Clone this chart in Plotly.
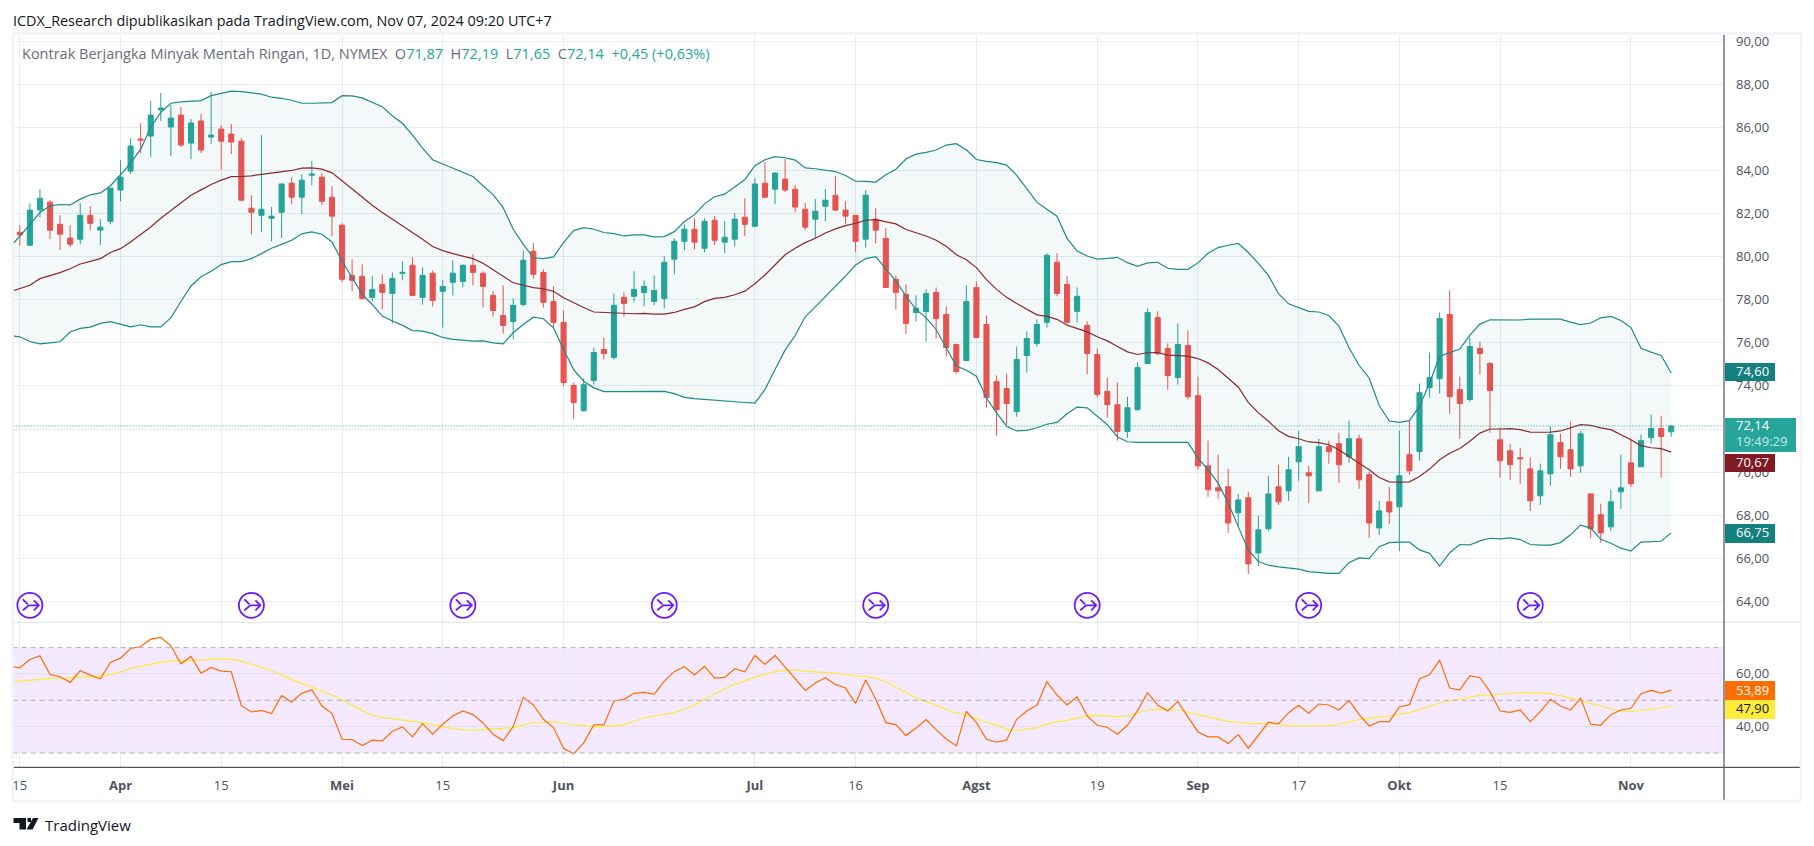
import pandas as pd
import plotly.graph_objects as go

W, H = 1814, 846
HOLIDAYS = ["2024-03-29", "2024-05-27", "2024-06-19", "2024-07-04", "2024-09-02"]
dates = [d.strftime("%Y-%m-%d") for d in pd.bdate_range("2024-03-14", "2024-11-07") if d.strftime("%Y-%m-%d") not in HOLIDAYS]

open_ = [81.13,80.53,82.17,82.53,81.50,80.86,80.81,81.92,81.23,81.64,
83.09,83.97,85.46,85.60,86.81,86.02,86.57,85.27,86.30,85.55,
85.92,85.69,85.36,82.25,81.92,81.78,82.06,83.41,82.76,83.78,
83.69,82.76,81.46,79.13,79.09,78.11,78.71,78.29,79.23,79.60,
78.11,79.23,78.39,78.81,78.85,79.60,79.23,78.20,77.27,76.99,
77.78,80.25,79.27,77.92,76.95,74.02,72.85,74.25,75.69,75.32,
78.11,78.16,78.34,77.92,78.06,79.88,80.71,81.27,80.39,81.69,
80.67,80.81,81.83,81.41,83.41,83.13,83.60,83.13,82.20,81.74,
82.34,82.85,82.16,81.92,80.81,81.74,80.85,78.95,78.25,77.41,
77.46,78.34,77.32,75.92,75.18,78.57,76.85,74.20,73.88,72.81,
75.41,75.97,76.95,79.74,78.71,77.46,76.81,75.46,73.74,73.13,
71.88,72.90,75.04,77.18,75.74,74.39,75.88,73.55,70.29,69.27,
69.32,68.11,68.81,66.25,67.37,69.32,69.13,70.48,69.97,69.13,
71.18,71.32,70.71,71.55,69.88,67.41,68.62,68.39,70.81,70.95,
73.92,74.34,77.32,73.83,73.37,75.74,75.04,71.50,70.99,70.67,
70.15,68.90,69.92,71.37,71.04,70.29,68.99,68.02,67.46,69.09,
70.43,70.25,71.60,72.02,71.87]
high = [81.46,82.48,83.13,82.62,81.92,81.46,82.48,82.34,81.74,83.18,
84.48,85.50,86.20,87.23,87.60,87.04,86.95,86.39,86.62,87.64,
86.11,86.16,85.50,82.85,85.64,82.30,83.41,83.69,83.83,84.43,
83.88,83.27,81.55,79.88,79.64,79.09,79.18,79.27,79.78,79.97,
79.50,79.36,78.90,79.83,79.64,80.11,79.32,78.39,78.67,78.06,
80.29,80.62,79.41,78.62,77.50,74.16,74.34,75.78,76.25,78.29,
78.34,79.32,78.90,79.13,80.02,80.85,81.50,81.78,81.78,81.88,
81.64,82.02,82.71,83.64,84.39,83.92,84.53,83.32,82.48,82.67,
83.13,83.74,82.57,81.92,83.09,82.25,81.32,79.13,78.71,78.20,
78.48,78.57,77.69,75.97,78.67,78.85,77.27,74.48,74.57,75.83,
76.53,77.09,80.16,80.16,79.09,78.57,76.99,75.74,74.39,74.16,
73.50,75.09,77.60,77.46,75.97,76.90,76.57,74.43,71.46,70.81,
70.15,68.99,69.09,67.97,69.83,70.34,70.71,71.92,70.29,71.55,
71.46,71.83,72.39,71.74,70.02,68.67,69.32,71.92,72.43,74.11,
75.55,77.41,78.43,74.43,76.25,76.06,75.09,72.06,71.32,71.13,
70.67,70.39,72.11,71.78,72.34,71.92,68.99,68.53,69.18,70.81,
71.50,71.74,72.67,72.62,72.19]
low = [80.50,80.53,81.81,80.81,80.31,80.45,80.58,81.23,80.53,81.50,
82.57,83.83,84.79,84.64,86.30,84.68,85.09,84.53,84.81,85.23,
84.02,84.76,82.57,81.04,81.13,80.71,80.86,82.44,81.97,83.32,
82.39,80.95,78.81,78.39,78.02,77.92,77.55,76.90,78.90,78.16,
77.78,77.69,76.71,78.20,78.57,78.67,77.64,77.22,76.43,76.16,
77.69,78.99,77.64,76.67,73.99,72.48,72.81,74.06,75.23,75.23,
77.22,77.88,77.69,77.74,77.60,79.18,80.30,80.34,80.20,80.53,
80.16,80.48,80.95,81.37,82.71,82.44,83.00,82.06,81.23,80.85,
81.64,82.11,81.50,80.20,80.43,80.62,78.57,77.55,76.39,76.99,
76.06,76.20,75.37,74.57,75.18,76.25,72.99,71.69,72.20,72.57,
74.62,75.83,76.71,78.16,76.90,76.95,74.53,73.46,72.53,71.46,
71.60,72.85,75.04,75.41,73.83,74.06,73.37,70.11,68.85,68.76,
67.18,67.47,65.27,65.64,67.27,68.48,68.67,69.60,68.57,69.13,
70.39,69.50,70.43,69.23,66.95,67.09,67.60,66.34,69.88,70.53,
73.46,73.65,72.71,71.55,73.27,74.53,71.83,69.74,69.64,69.46,
68.20,68.48,69.36,70.15,69.78,69.97,66.95,66.71,67.27,68.30,
69.32,70.25,71.32,69.74,71.65]
close = [81.01,82.16,82.71,81.23,81.04,80.58,81.92,81.55,81.37,83.18,
83.69,85.13,85.41,86.57,86.90,86.43,85.18,86.20,84.95,85.64,
85.36,85.32,82.62,82.06,82.20,81.88,83.37,82.76,83.55,83.83,
82.57,81.88,78.95,78.90,78.06,78.48,78.34,78.99,79.27,78.20,
79.13,77.97,78.62,79.23,79.60,79.27,78.62,77.50,76.81,77.74,
79.83,79.18,77.88,76.95,74.16,73.23,74.06,75.55,75.50,77.74,
77.83,78.48,78.62,78.43,79.74,80.71,81.27,80.67,81.64,80.76,
80.90,81.74,81.50,83.37,82.76,83.88,83.09,82.30,81.37,82.11,
82.62,82.16,81.88,80.71,82.85,81.23,78.57,78.34,76.90,77.60,
78.29,77.13,75.78,74.67,77.92,76.25,73.46,72.90,73.18,75.23,
76.20,76.85,80.06,78.29,76.95,78.16,75.50,73.60,73.13,71.88,
72.99,74.85,77.41,75.50,74.48,75.92,73.50,70.29,69.18,69.13,
67.64,68.71,65.74,67.32,68.99,68.62,70.11,71.18,69.83,71.18,
70.95,70.34,71.55,69.64,67.64,68.20,68.15,69.83,70.06,73.69,
74.39,77.13,73.50,73.18,75.83,75.50,73.78,70.53,70.34,70.62,
68.67,70.06,71.74,70.71,70.15,71.78,67.37,67.18,68.62,69.27,
69.46,71.46,72.02,71.65,72.14]

bb_upper = [80.42,80.93,81.49,82.05,82.36,82.42,82.40,82.67,82.87,82.96,83.29,
83.80,84.34,84.99,86.00,86.70,87.12,87.18,87.21,87.24,87.47,
87.57,87.68,87.66,87.61,87.54,87.40,87.35,87.26,87.12,87.12,
87.13,87.15,87.47,87.46,87.37,87.15,86.96,86.53,86.19,85.64,
85.04,84.50,84.30,84.09,83.91,83.72,83.29,82.88,82.28,81.27,
80.57,79.95,79.91,79.99,80.65,81.21,81.35,81.27,81.12,81.07,
80.96,81.01,81.01,80.92,80.93,81.16,81.63,81.95,82.45,82.78,
82.90,83.24,83.58,84.22,84.50,84.64,84.59,84.48,84.12,84.08,
84.03,83.95,83.77,83.50,83.49,83.46,83.80,84.06,84.53,84.76,
84.84,84.95,85.18,85.24,84.96,84.51,84.42,84.36,84.25,83.77,
83.16,82.53,82.20,81.88,80.85,80.26,80.03,79.89,79.92,79.97,
79.72,79.55,79.71,79.74,79.46,79.41,79.41,79.71,80.16,80.42,
80.53,80.61,80.19,79.69,79.13,78.28,77.81,77.63,77.46,77.43,
77.27,76.78,75.77,74.96,74.37,73.09,72.37,72.31,72.39,73.06,
74.14,75.38,75.54,75.71,76.36,76.87,77.07,77.06,77.06,77.06,
77.10,77.10,77.10,77.10,76.96,76.85,76.92,77.16,77.23,77.04,
76.71,75.75,75.57,75.41,74.60]
bb_lower = [76.34,76.28,76.06,75.95,76.00,76.05,76.50,76.67,76.73,76.90,76.98,
76.85,76.74,76.84,76.74,76.74,77.16,77.92,78.64,79.07,79.32,
79.63,79.77,79.77,79.91,80.14,80.39,80.57,80.76,81.06,81.15,
81.04,80.68,79.80,79.02,78.25,77.78,77.24,77.01,76.81,76.57,
76.54,76.43,76.25,76.16,76.11,76.08,76.09,76.00,75.95,76.47,
76.85,77.19,77.12,76.70,75.69,74.76,74.22,73.91,73.74,73.74,
73.72,73.74,73.74,73.75,73.75,73.64,73.47,73.41,73.37,73.35,
73.30,73.24,73.23,73.20,73.83,74.76,75.66,76.34,77.21,77.67,
78.14,78.61,79.10,79.61,79.91,80.00,79.41,78.87,78.17,77.55,
77.16,76.62,75.77,74.92,74.73,74.45,73.44,72.75,72.13,71.91,
71.94,72.06,72.22,72.31,72.71,73.02,72.98,72.59,72.20,71.63,
71.41,71.38,71.38,71.41,71.38,71.38,71.38,70.65,70.11,69.49,
68.56,67.47,66.39,65.85,65.68,65.60,65.55,65.50,65.38,65.33,
65.30,65.30,65.80,66.02,65.99,66.54,66.73,66.75,66.75,66.39,
66.23,65.64,66.26,66.64,66.62,66.81,66.93,66.90,66.95,66.87,
66.64,66.61,66.61,66.73,67.09,67.54,67.40,66.88,66.70,66.47,
66.34,66.75,66.78,66.79,67.18]
bb_basis = [78.36,78.51,78.67,78.98,79.12,79.26,79.44,79.66,79.78,79.91,80.19,
80.37,80.68,81.02,81.38,81.78,82.14,82.48,82.85,83.10,83.35,
83.55,83.71,83.72,83.75,83.82,83.88,83.94,84.00,84.11,84.12,
84.06,83.89,83.52,83.13,82.75,82.39,82.05,81.74,81.46,81.12,
80.81,80.47,80.28,80.14,80.02,79.91,79.69,79.41,79.09,78.79,
78.67,78.56,78.51,78.39,78.09,77.85,77.64,77.43,77.41,77.40,
77.35,77.35,77.37,77.33,77.33,77.41,77.55,77.67,77.91,78.06,
78.11,78.23,78.40,78.74,79.15,79.64,80.09,80.39,80.65,80.85,
81.10,81.29,81.44,81.55,81.69,81.72,81.63,81.52,81.26,81.10,
80.96,80.76,80.48,80.09,79.86,79.49,78.93,78.48,78.11,77.83,
77.58,77.30,77.23,77.09,76.82,76.68,76.51,76.28,76.09,75.83,
75.58,75.46,75.54,75.55,75.43,75.41,75.38,75.27,75.07,74.76,
74.37,73.95,73.24,72.75,72.36,71.92,71.66,71.55,71.40,71.37,
71.27,71.04,70.73,70.42,70.11,69.75,69.55,69.54,69.55,69.80,
70.14,70.57,70.88,71.10,71.43,71.81,72.00,72.00,72.02,71.97,
71.86,71.85,71.86,71.91,72.05,72.20,72.17,72.05,71.97,71.74,
71.50,71.23,71.13,71.09,70.93]
rsi = [62.99,62.36,65.51,66.90,59.83,58.95,56.81,61.22,59.58,58.19,64.37,
66.01,69.67,70.43,73.20,73.83,70.68,63.87,66.64,60.34,62.48,
61.10,60.84,47.98,45.58,46.21,44.95,51.76,49.37,52.65,54.03,
47.85,45.08,35.24,35.12,32.85,34.87,34.61,38.27,39.91,36.13,
41.17,37.14,40.92,44.07,45.96,44.58,41.42,37.14,34.74,40.04,
51.13,48.23,42.81,39.66,31.84,29.70,33.86,40.67,40.67,49.75,
50.38,52.65,53.03,52.27,57.31,60.97,62.73,59.58,62.86,58.45,
58.70,61.98,60.84,67.02,63.62,67.02,62.73,58.19,53.78,56.56,
58.57,56.05,54.66,48.86,57.69,50.50,41.55,40.79,36.63,39.53,
42.69,38.90,35.37,32.72,45.84,41.55,35.24,34.11,34.99,42.81,
45.96,48.11,57.06,52.02,48.23,51.39,44.07,40.54,39.78,37.14,
40.54,46.09,52.90,48.23,45.96,49.49,43.82,38.02,36.13,36.13,
33.61,37.01,31.84,36.88,41.68,41.05,45.33,48.11,45.08,48.61,
48.23,46.34,50.00,44.70,40.29,41.93,41.93,47.48,48.36,58.19,
59.71,65.26,54.66,53.91,59.33,58.57,53.28,45.96,45.46,46.34,
41.93,45.71,50.38,47.85,46.34,50.76,40.92,40.54,44.58,46.34,
46.97,52.52,53.78,52.77,53.89]
rsi_ma = [56.93,57.31,57.69,58.19,58.32,58.32,58.57,58.82,58.95,59.20,59.83,
60.72,62.10,62.99,63.74,64.50,64.88,64.88,65.13,65.26,65.63,
65.63,65.63,64.88,63.74,62.61,61.22,59.58,57.94,56.43,55.04,
53.65,52.02,50.25,48.23,46.09,44.45,43.57,43.06,42.68,42.05,
41.55,40.67,40.04,39.28,38.77,38.65,38.77,39.15,39.40,39.53,
40.67,41.55,41.68,41.93,41.30,40.79,40.29,40.04,40.04,40.29,
40.79,42.05,43.31,44.07,44.58,45.33,46.72,48.11,50.38,52.39,
54.41,56.05,57.44,58.82,59.83,60.97,61.47,61.47,61.10,60.84,
60.59,60.21,59.71,59.08,59.08,58.45,57.06,54.92,52.90,50.88,
49.49,48.11,46.72,45.21,44.45,43.06,41.68,40.67,38.90,38.52,
38.90,39.53,41.05,41.93,42.43,43.31,44.07,44.32,43.94,43.69,
44.07,45.21,46.34,46.59,46.59,46.34,45.46,44.58,43.69,42.68,
42.05,41.68,41.17,41.17,41.17,40.92,40.29,40.29,40.16,40.16,
40.41,40.92,41.93,42.68,43.19,43.57,44.07,44.83,45.33,46.47,
47.73,48.99,49.75,50.38,51.01,51.89,52.02,52.39,52.65,52.90,
52.90,52.77,52.65,51.76,50.88,49.87,48.86,47.85,46.97,45.96,
45.71,46.21,46.72,47.10,47.90]

tick_dates = ["2024-03-15","2024-04-01","2024-04-15","2024-05-01","2024-05-15","2024-06-03","2024-07-01","2024-07-16","2024-08-01","2024-08-19","2024-09-03","2024-09-17","2024-10-01","2024-10-15","2024-11-01"]
tick_text = ["15","<b>Apr</b>","15","<b>Mei</b>","15","<b>Jun</b>","<b>Jul</b>","16","<b>Agst</b>","19","<b>Sep</b>","17","<b>Okt</b>","15","<b>Nov</b>"]
event_dates = ["2024-03-18","2024-04-18","2024-05-17","2024-06-17","2024-07-18","2024-08-16","2024-09-18","2024-10-18"]
EVENT_LEVEL = 63.82
price_ticks = [64,66,68,70,72,74,76,78,80,82,84,86,88,90]
price_tick_text = ["64,00","66,00","68,00","70,00","","74,00","76,00","78,00","80,00","82,00","84,00","86,00","88,00","90,00"]
rsi_ticks = [40, 60]
rsi_tick_text = ["40,00", "60,00"]

FONT = "Open Sans"
GRID = "#e6edf3"
AXIS = "#50535e"
UP, DOWN = "#26a69a", "#ef5350"
BAND = "#1f8a8a"
FRAME = "#f0f3fa"

px = lambda v: v / W
py = lambda v: 1 - v / H
L, R, TOP, SPLIT, BOTTOM, FR, FB = 12.65, 1724, 34.5, 622.3, 767.3, 1801, 801

fig = go.Figure()
fig.add_trace(go.Candlestick(x=dates[1:], open=open_, high=high, low=low, close=close,
    increasing=dict(line=dict(color=UP, width=1), fillcolor=UP),
    decreasing=dict(line=dict(color=DOWN, width=1), fillcolor=DOWN),
    whiskerwidth=0, xaxis="x", yaxis="y", hoverinfo="skip"))
fig.add_trace(go.Scatter(x=dates, y=bb_upper, mode="lines", line=dict(color=BAND, width=1.2), xaxis="x", yaxis="y", hoverinfo="skip"))
fig.add_trace(go.Scatter(x=dates, y=bb_lower, mode="lines", line=dict(color=BAND, width=1.2), fill="tonexty", fillcolor="rgba(20,110,120,0.05)", xaxis="x", yaxis="y", hoverinfo="skip"))
fig.add_trace(go.Scatter(x=dates, y=bb_basis, mode="lines", line=dict(color="#8a2a2c", width=1.2), xaxis="x", yaxis="y", hoverinfo="skip"))
fig.add_trace(go.Scatter(x=dates, y=rsi_ma, mode="lines", line=dict(color="#ffeb3b", width=1.2), xaxis="x2", yaxis="y2", hoverinfo="skip"))
fig.add_trace(go.Scatter(x=dates, y=rsi, mode="lines", line=dict(color="#ff6d00", width=1.2), xaxis="x2", yaxis="y2", hoverinfo="skip"))

shapes = []
shapes.append(dict(type="rect", xref="x2 domain", yref="y2", x0=0, x1=1, y0=30, y1=70, fillcolor="rgba(150,40,250,0.10)", line_width=0, layer="below"))
for lv in (70, 50, 30):
    shapes.append(dict(type="line", xref="x2 domain", yref="y2", x0=0, x1=1, y0=lv, y1=lv, line=dict(color="#b3adb9", width=1, dash="5px,4px"), layer="above"))
shapes.append(dict(type="line", xref="x domain", yref="y", x0=0, x1=1, y0=close[-1], y1=close[-1], line=dict(color=UP, width=1, dash="1px,2px")))
ICON = "M-12.5,0 C-12.5,-6.9 -6.9,-12.5 0,-12.5 C6.9,-12.5 12.5,-6.9 12.5,0 C12.5,6.9 6.9,12.5 0,12.5 C-6.9,12.5 -12.5,6.9 -12.5,0 Z"
ARROW = "M-7,-5 L-1,0 L9,0 M4,-5 L9,0 L4,5 M-2,1 L-7,6"
for d in event_dates:
    for path in (ICON, ARROW):
        shapes.append(dict(type="path", xref="x", yref="y", xsizemode="pixel", ysizemode="pixel", xanchor=d, yanchor=EVENT_LEVEL, path=path, line=dict(color="#6a1bff", width=1.8), fillcolor="rgba(0,0,0,0)"))
def pline(x0, y0, x1, y1, color, width):
    shapes.append(dict(type="line", xref="paper", yref="paper", x0=px(x0), x1=px(x1), y0=py(y0), y1=py(y1), line=dict(color=color, width=width), layer="above"))
pline(L, SPLIT, R, SPLIT, "#e0e3eb", 1)
pline(R, SPLIT, FR, SPLIT, "#e0e3eb", 1)
pline(L, BOTTOM, FR, BOTTOM, AXIS, 1.2)
pline(R, TOP, R, FB, AXIS, 1.2)
pline(L, 33.5, FR, 33.5, FRAME, 2.5)
pline(L, FB, FR, FB, FRAME, 2.5)
pline(L, 33.5, L, FB, FRAME, 2.5)
pline(FR, 33.5, FR, FB, FRAME, 2.5)
LOGO = [
    f"M{px(13.5)},{py(818)} L{px(26)},{py(818)} L{px(26)},{py(829.5)} L{px(19.5)},{py(829.5)} L{px(19.5)},{py(823)} L{px(13.5)},{py(823)} Z",
    f"M{px(33)},{py(818)} L{px(38.5)},{py(818)} L{px(32.5)},{py(829.5)} L{px(26.5)},{py(829.5)} Z",
    f"M{px(27.5)},{py(818)} L{px(31)},{py(818)} L{px(31)},{py(822)} L{px(27.5)},{py(822)} Z",
]
for p in LOGO:
    shapes.append(dict(type="path", xref="paper", yref="paper", path=p, fillcolor="#131722", line_width=0, layer="above"))

def note(x, y, text, size=13, color="#50535e"):
    return dict(xref="paper", yref="paper", x=px(x), y=py(y), xanchor="left", yanchor="middle", text=text, showarrow=False,
                font=dict(family=FONT, size=size, color=color), align="left")

def tick_note(value, text, yref):
    return dict(xref="paper", yref=yref, x=px(1734), y=value, yshift=0.5, xanchor="left", yanchor="middle", text=text, showarrow=False,
                font=dict(family=FONT, size=13, color=AXIS), align="left")

def box_note(y0, y1, x1, color):
    return dict(xref="paper", yref="paper", x=px(R + 0.5), y=py((y0 + y1) / 2), xanchor="left", yanchor="middle", text="&nbsp;", showarrow=False,
                width=x1 - R - 0.5, height=y1 - y0, bgcolor=color, borderpad=0, borderwidth=0, font=dict(family=FONT, size=8, color=color))

G = "#26a69a"
SP = "&nbsp;&nbsp;"
legend = ("Kontrak Berjangka Minyak Mentah Ringan, 1D, NYMEX" + SP + "O<span style='color:%s'>71,87</span>" + SP +
          "H<span style='color:%s'>72,19</span>" + SP + "L<span style='color:%s'>71,65</span>" + SP + "C<span style='color:%s'>72,14</span>"
          + SP + "<span style='color:%s'>+0,45 (+0,63%%)</span>") % (G, G, G, G, G)
annotations = [
    note(11, 20, "ICDX_Research dipublikasikan pada TradingView.com, Nov 07, 2024 09:20 UTC+7", 14.4, "#131722"),
    note(20, 53, legend, 14.5, "#6a6d78"),
    note(42.5, 825, "TradingView", 15, "#131722"),
]
annotations += [tick_note(v, t, "y") for v, t in zip(price_ticks, price_tick_text) if t]
annotations += [tick_note(v, t, "y2") for v, t in zip(rsi_ticks, rsi_tick_text)]
annotations += [
    box_note(363.3, 381.3, 1774, "#14807f"), box_note(417.3, 451.7, 1795, UP), box_note(453.3, 471.7, 1774, "#801922"),
    box_note(524, 542.7, 1774, "#14807f"), box_note(681, 700, 1774, "#ff6d00"), box_note(700, 718.7, 1774, "#ffeb3b"),
    note(1734, 371.3, "74,60", 13, "#ffffff"),
    note(1734, 424.5, "72,14", 13, "#ffffff"),
    note(1734, 441.5, "19:49:29", 13, "#c5ebe6"),
    note(1734, 461.5, "70,67", 13, "#ffffff"),
    note(1734, 532.3, "66,75", 13, "#ffffff"),
    note(1734, 689.5, "53,89", 13, "#ffffff"),
    note(1734, 708.3, "47,90", 13, "#131722"),
]

common_x = dict(type="category", categoryorder="array", categoryarray=dates, range=[0.29, 170.24],
                domain=[px(L), px(R)], tickmode="array", tickvals=tick_dates, showgrid=True, gridcolor=GRID, gridwidth=1, zeroline=False, fixedrange=True)
fig.update_layout(
    width=W, height=H, margin=dict(l=0, r=0, t=0, b=0), paper_bgcolor="#ffffff", plot_bgcolor="#ffffff",
    showlegend=False, boxgap=0.28,
    font=dict(family=FONT, size=13, color=AXIS),
    xaxis=dict(common_x, anchor="y", showticklabels=False, ticks="", rangeslider=dict(visible=False)),
    xaxis2=dict(common_x, anchor="y2", matches="x", ticktext=tick_text, ticks="outside", ticklen=6, tickcolor="rgba(0,0,0,0)", tickfont=dict(family=FONT, size=13, color=AXIS)),
    yaxis=dict(domain=[py(SPLIT), py(TOP)], range=[63.03, 90.31], side="right", anchor="x", tickmode="array", tickvals=price_ticks, showticklabels=False,
               showgrid=True, gridcolor=GRID, gridwidth=1, zeroline=False, ticks="", fixedrange=True),
    yaxis2=dict(domain=[py(BOTTOM), py(SPLIT)], range=[24.6, 79.6], side="right", anchor="x2", tickmode="array", tickvals=rsi_ticks, showticklabels=False,
                showgrid=True, gridcolor="#e3def0", gridwidth=1, zeroline=False, ticks="", fixedrange=True),
    shapes=shapes, annotations=annotations,
)
fig.write_html("out.html", post_script="document.body.style.margin='0';", config=dict(displayModeBar=False))
